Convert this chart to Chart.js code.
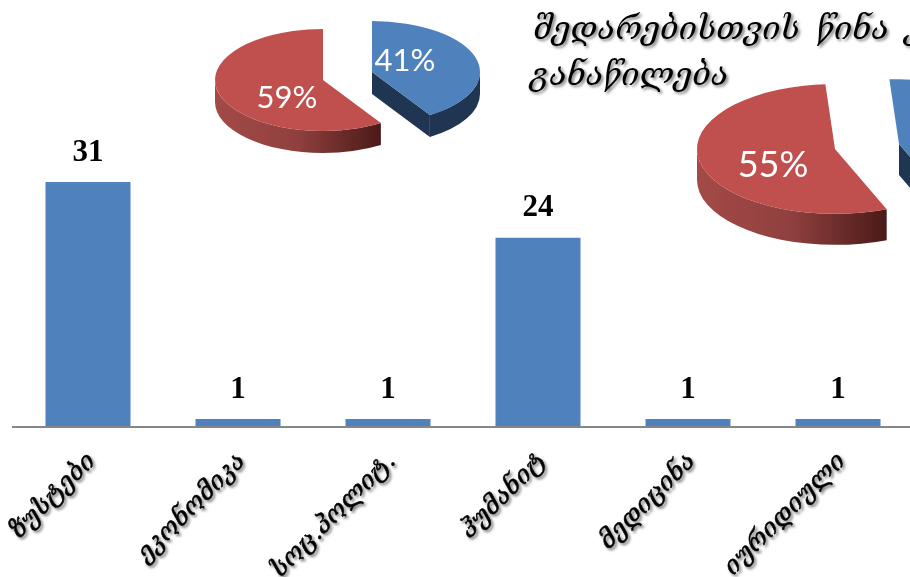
<!DOCTYPE html>
<html>
<head>
<meta charset="utf-8">
<script src="https://cdn.jsdelivr.net/npm/chart.js@4"></script>
<style>
html,body{margin:0;padding:0;background:#fff;width:910px;height:577px;overflow:hidden}
#wrap{position:relative;width:910px;height:577px;overflow:hidden}
canvas{position:absolute;display:block}
</style>
</head>
<body>
<div id="wrap">
<canvas id="bars" width="913" height="577" style="left:0;top:0"></canvas>
<canvas id="pieA" width="340" height="160" style="left:153px;top:0px"></canvas>
<canvas id="pieB" width="400" height="220" style="left:635px;top:39px"></canvas>
</div>
<script>
const categories = ["ზუსტები","ეკონომიკა","სოც.პოლიტ.","ჰუმანიტ","მედიცინა","იურიდიული"];
const barValues = [31,1,1,24,1,1];
const titleLines = ["შედარებისთვის წინა კურსის","განაწილება"];
const pieAValues = [41,59];
const pieBValues = [45,55];
const georgianFont = "'DejaVu Serif','DejaVu Sans',serif";

function withTickShadow(scale){
  if(scale._shadowed) return;
  scale._shadowed = true;
  const proto = Object.getPrototypeOf(scale).drawLabels;
  scale.drawLabels = function(area){
    const c = this.ctx; c.save();
    c.shadowColor='rgba(0,0,0,0.5)'; c.shadowBlur=3; c.shadowOffsetX=2; c.shadowOffsetY=2;
    proto.call(this,area); c.restore();
  };
}

const barExtras = {
  id:'barExtras',
  afterLayout(chart){ withTickShadow(chart.scales.x); },
  afterDraw(chart){
    const c = chart.ctx;
    c.save();
    c.fillStyle='#000';
    c.textAlign='center'; c.textBaseline='alphabetic';
    c.font="bold 31px 'Liberation Serif',serif";
    chart.getDatasetMeta(0).data.forEach((el,i)=>{
      c.fillText(String(barValues[i]), el.x, el.y-21);
    });
    c.restore();
    c.save();
    c.fillStyle='#000'; c.strokeStyle='#000'; c.lineWidth=0.5;
    c.textAlign='left';
    c.wordSpacing='6px';
    c.shadowColor='rgba(0,0,0,0.5)'; c.shadowBlur=3; c.shadowOffsetX=2; c.shadowOffsetY=2;
    c.font="italic 32px "+georgianFont;
    c.fillText(titleLines[0],533,39);
    c.fillText(titleLines[1],530,85);
    c.restore();
  }
};

new Chart(document.getElementById('bars'),{
  type:'bar',
  data:{labels:categories,datasets:[{data:barValues,backgroundColor:'#4f81bd',borderColor:'#a3bde0',borderWidth:{left:1,right:1,top:0,bottom:0},categoryPercentage:1,barPercentage:0.573}]},
  options:{
    responsive:false,animation:false,
    layout:{autoPadding:false,padding:{left:13,right:0,top:111,bottom:0}},
    plugins:{legend:{display:false},title:{display:false},tooltip:{enabled:false}},
    scales:{
      y:{display:false,min:0,max:40},
      x:{
        grid:{display:false,drawTicks:false},
        border:{display:true,color:'#868686',width:2,z:1},
        afterFit(s){s.height=150;s.paddingLeft=0;s.paddingRight=0;},
        ticks:{autoSkip:false,minRotation:45,maxRotation:45,labelOffset:4,padding:20,color:'#000',
          textStrokeColor:'#000',textStrokeWidth:0.5,
          font:{family:georgianFont,size:25,style:'italic'}}
      }
    }
  },
  plugins:[barExtras]
});

function squashPie(opts){
  const k = opts.squash;
  return {
    id:'squashPie',
    afterUpdate(chart){
      chart.getDatasetMeta(0).data.forEach((a,i)=>{
        const e = opts.explode[i];
        if(!e) return;
        const original = a.draw;
        a.draw = function(ctx,area){
          ctx.save();ctx.translate(e.dx,e.dy/k);original.call(this,ctx,area);ctx.restore();
        };
      });
    },
    beforeDatasetsDraw(chart){
      const c = chart.ctx, arcs = chart.getDatasetMeta(0).data;
      arcs.forEach((a,i)=>{
        const p = a.getProps(['x','y','startAngle','endAngle','outerRadius'],true);
        const e = opts.explode[i] || {dx:0,dy:0};
        const ox=p.x+e.dx, oy=p.y+e.dy;
        const R=p.outerRadius, d=opts.depth, b=R*k;
        const a0=Math.max(p.startAngle,0), a1=Math.min(p.endAngle,Math.PI);
        const colors=opts.colors[i];
        if(colors.cut){
          c.fillStyle=colors.cut;
          const ex=ox+Math.cos(p.endAngle)*R, ey=oy+Math.sin(p.endAngle)*b;
          c.beginPath();c.moveTo(ox,oy);c.lineTo(ex,ey);c.lineTo(ex,ey+d);c.lineTo(ox,oy+d);c.closePath();c.fill();
        }
        if(a1>a0){
          const x0=ox+Math.cos(a1)*R, x1=ox+Math.cos(a0)*R;
          const gr=c.createLinearGradient(x0,0,x1,0);
          colors.rim.forEach((col,j,all)=>gr.addColorStop(j/(all.length-1),col));
          c.fillStyle=gr;
          c.beginPath();
          c.ellipse(ox,oy,R,b,0,a0,a1);
          c.ellipse(ox,oy+d,R,b,0,a1,a0,true);
          c.closePath();c.fill();
        }
      });
      c.save();
      const cy=arcs[0].y;
      c.translate(0,cy);c.scale(1,k);c.translate(0,-cy);
    },
    afterDatasetsDraw(chart){
      const c=chart.ctx; c.restore();
      c.save();
      c.fillStyle='#fff';c.textAlign='center';c.textBaseline='middle';
      c.font=opts.font;
      opts.labels.forEach(l=>c.fillText(l.text,l.x,l.y));
      c.restore();
    }
  };
}

function makePie(id,values,radius,rotation,extra){
  new Chart(document.getElementById(id),{
    type:'pie',
    data:{datasets:[{data:values,backgroundColor:['#4f81bd','#c0504d'],borderWidth:0}]},
    options:{responsive:false,animation:false,radius:radius,rotation:rotation,
      plugins:{legend:{display:false},title:{display:false},tooltip:{enabled:false}}},
    plugins:[squashPie(extra)]
  });
}

const rimRed=['#a34a48','#8f403e','#4a1a18'], rimBlue=['#1f3552','#1f3552'];
makePie('pieA',pieAValues,108,0,{
  squash:0.472,depth:22,font:"31px Lato,sans-serif",explode:[{dx:49,dy:-8},null],
  colors:[{rim:rimBlue,cut:'#1f3552'},{rim:rimRed,cut:null}],
  labels:[{text:"41%",x:252,y:61},{text:"59%",x:134,y:98}]
});
makePie('pieB',pieBValues,138,-4,{
  squash:0.47,depth:31,font:"36px Lato,sans-serif",explode:[{dx:64,dy:-5},null],
  colors:[{rim:rimBlue,cut:'#1f3552'},{rim:rimRed,cut:null}],
  labels:[{text:"45%",x:420,y:70},{text:"55%",x:138,y:126}]
});
</script>
</body>
</html>
